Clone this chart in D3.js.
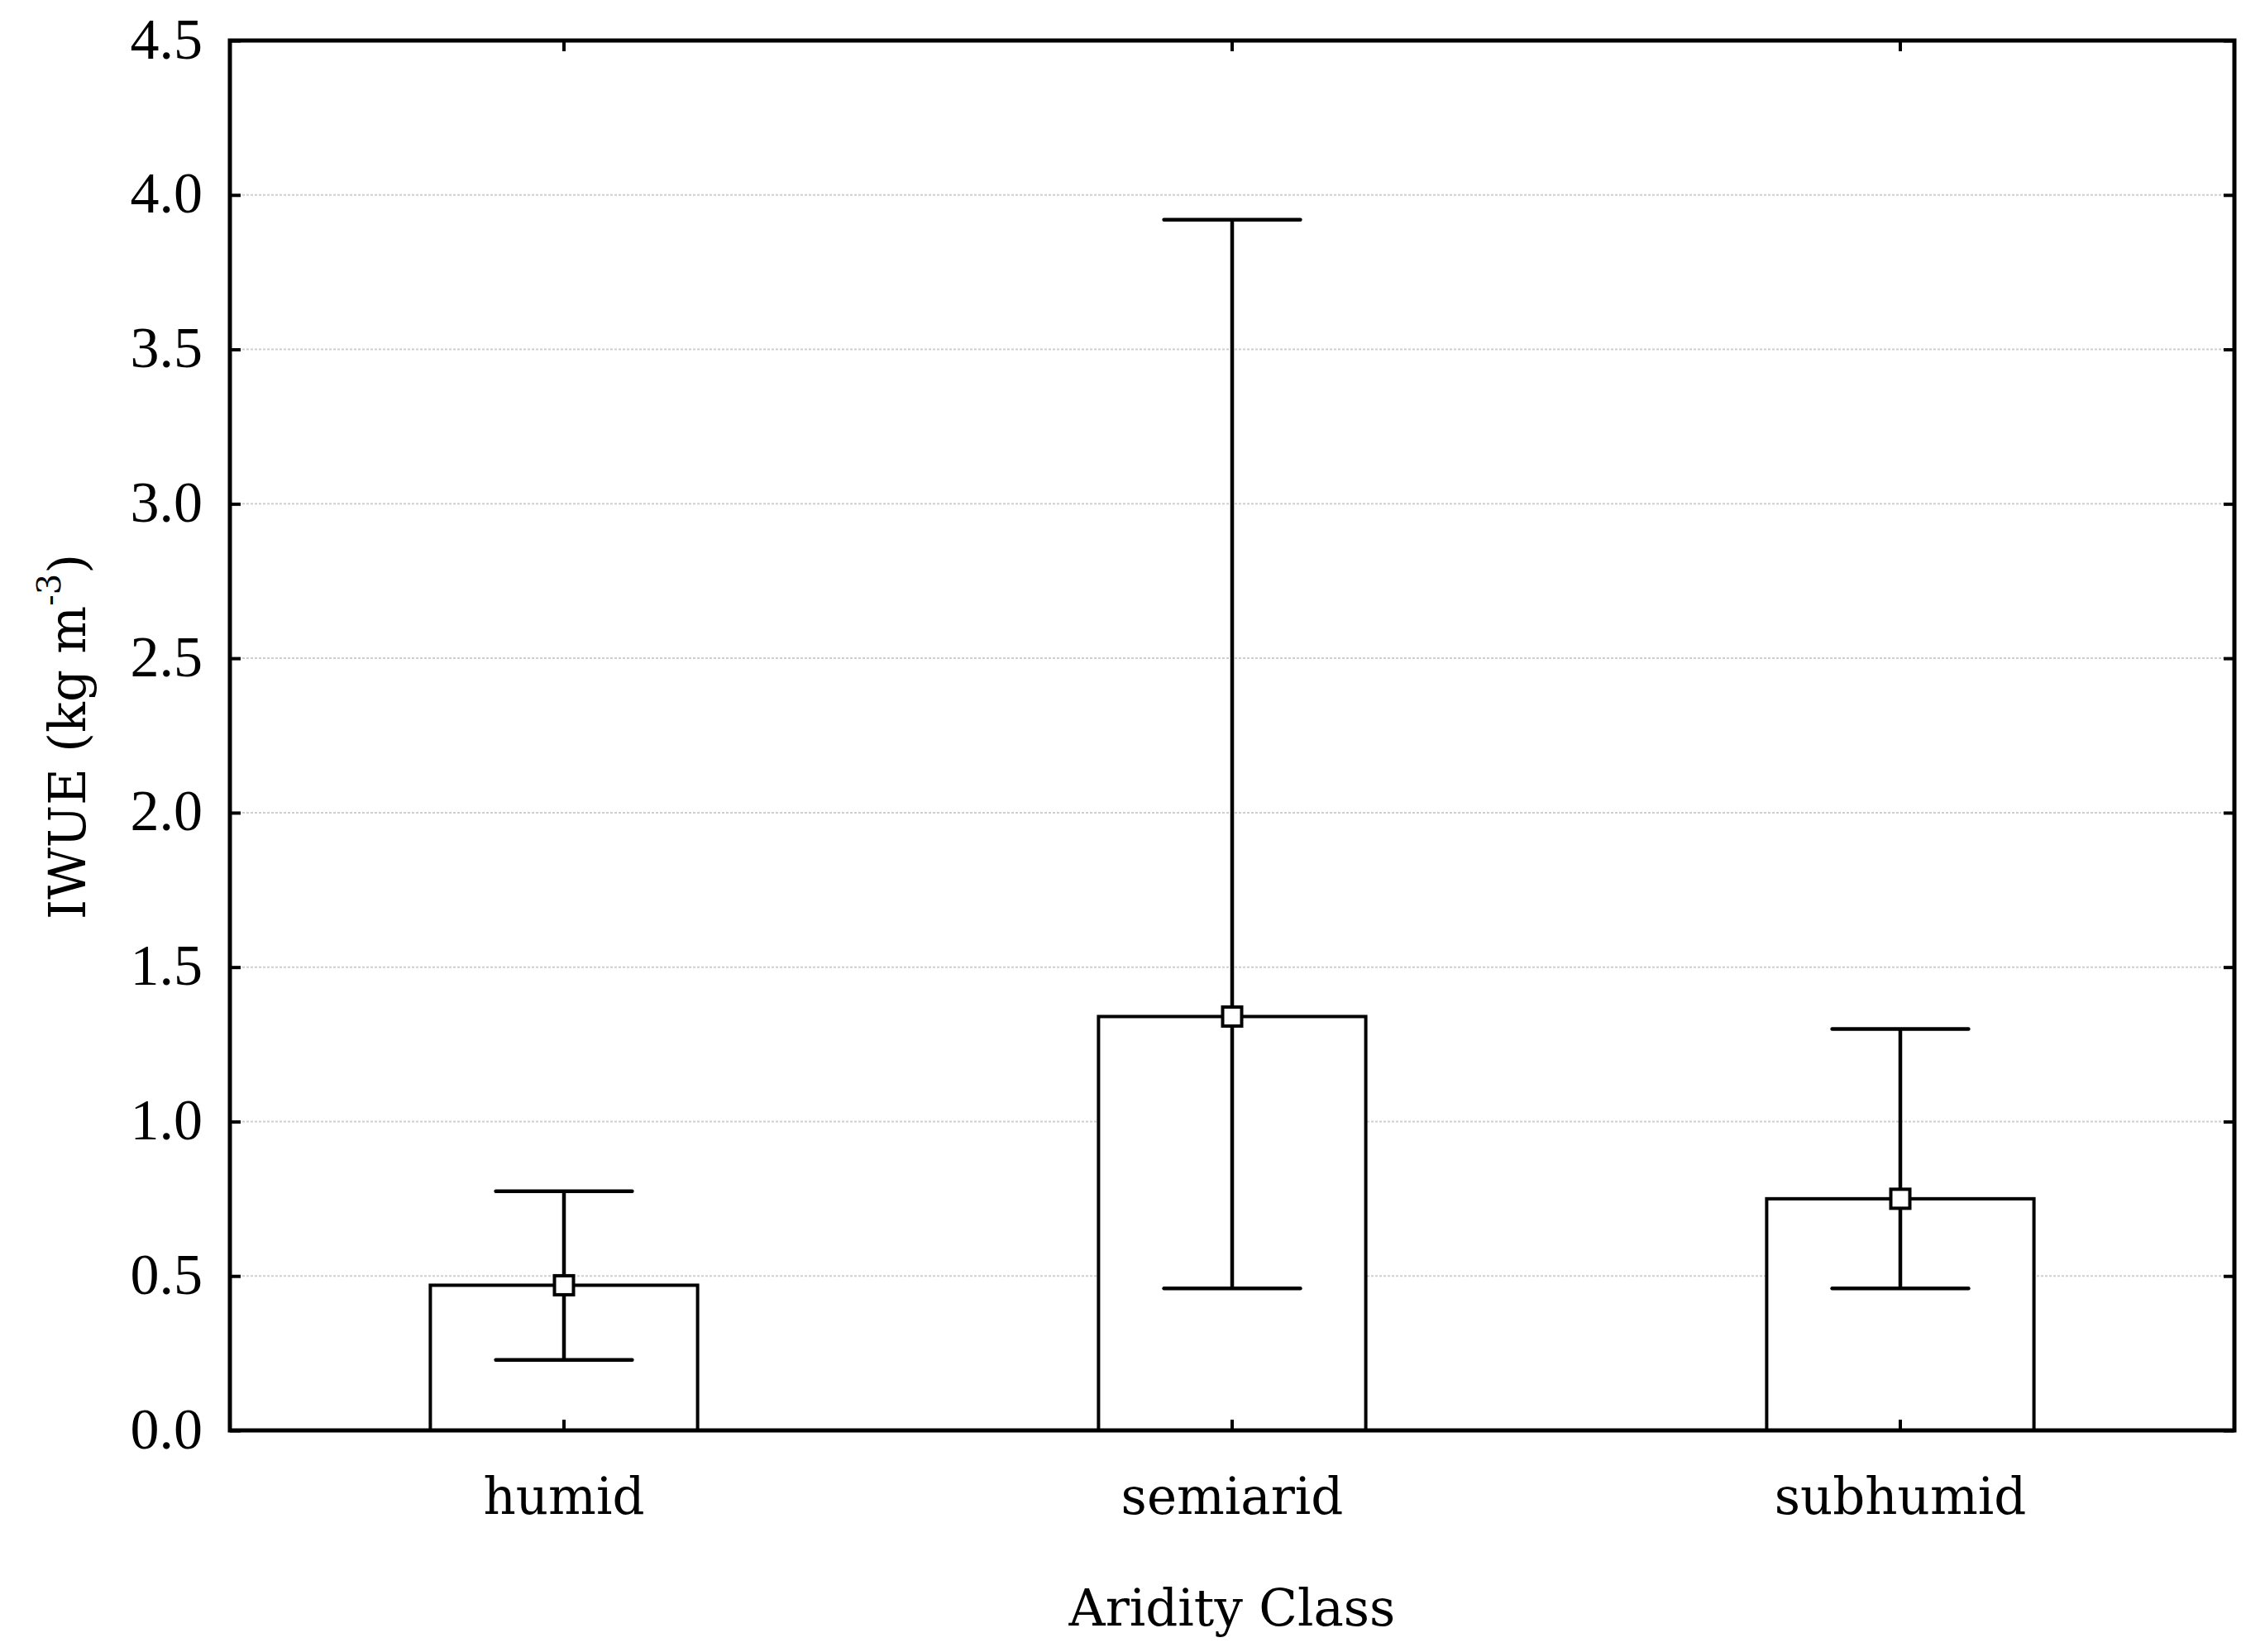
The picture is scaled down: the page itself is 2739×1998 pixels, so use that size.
<!DOCTYPE html>
<html>
<head>
<meta charset="utf-8">
<script src="https://cdn.jsdelivr.net/npm/d3@7"></script>
<style>
  body { margin: 0; background: #fff; }
  svg { display: block; }
</style>
</head>
<body>
<script>
    // values
    var classes = ['humid', 'semiarid', 'subhumid'];
    var means = [0.47, 1.34, 0.75];
    var lower = [0.228, 0.46, 0.46];
    var upper = [0.774, 3.92, 1.30];
    var yTicks = [0.0, 0.5, 1.0, 1.5, 2.0, 2.5, 3.0, 3.5, 4.0, 4.5];

    (function() {
    var W = 2739, H = 1998,
        pLeft = 278, pRight = 2702, pTop = 49, pBottom = 1730;

    var svg = d3.select('body').append('svg')
        .attr('width', W)
        .attr('height', H);

    var x = d3.scaleBand()
        .domain(classes)
        .range([pLeft, pRight])
        .paddingInner(0.6)
        .paddingOuter(0.3);

    var y = d3.scaleLinear()
        .domain([0, 4.5])
        .range([pBottom, pTop]);

    var rows = classes.map(function(c, i) {
        return {name: c, mean: means[i], lo: lower[i], hi: upper[i]};
    });

    // dotted grid
    svg.append('g').selectAll('line')
        .data(yTicks.filter(function(t) { return t > 0 && t < 4.5; }))
        .enter().append('line')
        .attr('x1', pLeft).attr('x2', pRight)
        .attr('y1', function(d) { return y(d); })
        .attr('y2', function(d) { return y(d); })
        .style('stroke', '#cfcfcf')
        .style('stroke-width', 2)
        .style('stroke-dasharray', '3,2');

    // bars
    svg.append('g').selectAll('rect')
        .data(rows)
        .enter().append('rect')
        .attr('x', function(d) { return x(d.name); })
        .attr('y', function(d) { return y(d.mean); })
        .attr('width', x.bandwidth())
        .attr('height', function(d) { return y(0) - y(d.mean); })
        .style('fill', '#fff')
        .style('stroke', '#000')
        .style('stroke-width', 4);

    var cx = function(d) { return x(d.name) + x.bandwidth() / 2; };
    var capHalf = x.step() * 0.102;

    var err = svg.append('g').selectAll('g')
        .data(rows)
        .enter().append('g')
        .style('stroke', '#000')
        .style('stroke-width', 4.5);

    err.append('line')
        .attr('x1', cx).attr('x2', cx)
        .attr('y1', function(d) { return y(d.lo); })
        .attr('y2', function(d) { return y(d.hi); });
    err.append('line')
        .attr('x1', function(d) { return cx(d) - capHalf; })
        .attr('x2', function(d) { return cx(d) + capHalf; })
        .attr('y1', function(d) { return y(d.hi); })
        .attr('y2', function(d) { return y(d.hi); })
        .style('stroke-linecap', 'round');
    err.append('line')
        .attr('x1', function(d) { return cx(d) - capHalf; })
        .attr('x2', function(d) { return cx(d) + capHalf; })
        .attr('y1', function(d) { return y(d.lo); })
        .attr('y2', function(d) { return y(d.lo); })
        .style('stroke-linecap', 'round');
    err.append('rect')
        .attr('x', function(d) { return cx(d) - 11.5; })
        .attr('y', function(d) { return y(d.mean) - 11.5; })
        .attr('width', 23)
        .attr('height', 23)
        .style('fill', '#fff')
        .style('stroke-width', 4);

    // axes with inward ticks
    var tickStyle = function(g) {
        g.select('.domain').remove();
        g.selectAll('.tick line').style('stroke', '#000').style('stroke-width', 4);
    };

    svg.append('g')
        .attr('transform', 'translate(' + pLeft + ',0)')
        .call(d3.axisLeft(y).tickValues(yTicks).tickFormat(d3.format('.1f'))
            .tickSizeInner(-13).tickSizeOuter(0).tickPadding(33))
        .call(tickStyle)
        .call(function(g) {
            g.selectAll('text')
                .style('font-family', '"Liberation Serif", "Times New Roman", serif')
                .style('font-size', '70px')
                .style('fill', '#000')
                .attr('dy', '0.3em');
        });

    svg.append('g')
        .attr('transform', 'translate(' + pRight + ',0)')
        .call(d3.axisRight(y).tickValues(yTicks).tickFormat('')
            .tickSizeInner(-13).tickSizeOuter(0))
        .call(tickStyle);

    svg.append('g')
        .attr('transform', 'translate(0,' + pBottom + ')')
        .call(d3.axisBottom(x).tickSizeInner(-13).tickSizeOuter(0).tickPadding(58))
        .call(tickStyle)
        .call(function(g) {
            g.selectAll('text')
                .style('font-family', '"DejaVu Serif", serif')
                .style('font-size', '61px')
                .style('fill', '#000');
        });

    svg.append('g')
        .attr('transform', 'translate(0,' + pTop + ')')
        .call(d3.axisTop(x).tickSizeInner(-13).tickSizeOuter(0).tickFormat(''))
        .call(tickStyle);

    // frame
    svg.append('rect')
        .attr('x', pLeft).attr('y', pTop)
        .attr('width', pRight - pLeft)
        .attr('height', pBottom - pTop)
        .style('fill', 'none')
        .style('stroke', '#000')
        .style('stroke-width', 5);

    // titles
    svg.append('text')
        .attr('x', (pLeft + pRight) / 2)
        .attr('y', 1966)
        .attr('text-anchor', 'middle')
        .style('font-family', '"DejaVu Serif", serif')
        .style('font-size', '61px')
        .text('Aridity Class');

    var yt = svg.append('text')
        .attr('transform', 'translate(103,891) rotate(-90)')
        .attr('text-anchor', 'middle')
        .style('font-family', '"DejaVu Serif", serif')
        .style('font-size', '61px');
    yt.append('tspan').text('IWUE (kg m');
    yt.append('tspan').attr('dy', -30).style('font-size', '40px').text('-3');
    yt.append('tspan').attr('dy', 30).text(')');
    })();
</script>
</body>
</html>
